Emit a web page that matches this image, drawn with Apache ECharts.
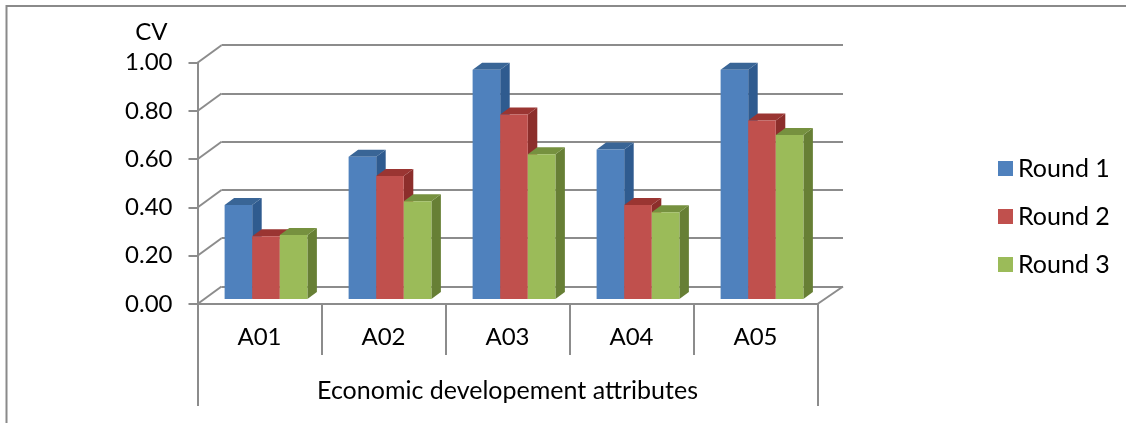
<!DOCTYPE html>
<html>
<head>
<meta charset="utf-8">
<style>html,body{margin:0;padding:0;background:#fff}#chart{width:1126px;height:423px}</style>
<script src="https://cdn.jsdelivr.net/npm/echarts@6/dist/echarts.min.js"></script>
</head>
<body>
<div id="chart"></div>
<script>
// Coefficient of variation per attribute across three survey rounds
const categories = ['A01', 'A02', 'A03', 'A04', 'A05'];
const round1 = [0.39, 0.59, 0.95, 0.62, 0.95];
const round2 = [0.26, 0.51, 0.765, 0.39, 0.74];
const round3 = [0.265, 0.405, 0.60, 0.36, 0.68];
const wallTicks = [0, 0.2, 0.4, 0.6, 0.8, 1];
const groupTitle = 'Economic developement attributes';

const FONT = 'Lato';
const LINE = '#8c8c8c';
const FRONT = { left: 197.5, top: 62.7, width: 620, height: 241.3 };
const DEPTH = { x: 24, y: 17.5 };
const BAR_DEPTH = { x: 9.5, y: 7 };
const BAR_SHIFT = { x: 6.5, y: 5 };

// One extruded column: front face, top face and right side face
function columnRenderer(slot, shades) {
  return function (params, api) {
    const cat = api.value(0);
    const base = api.coord([cat, 0]);
    const top = api.coord([cat, api.value(1)]);
    const band = api.size([1, 0])[0];
    const w = band * 0.2225;
    const x0 = base[0] + BAR_SHIFT.x + (slot - 1) * w - w / 2;
    const x1 = x0 + w;
    const y0 = base[1] - BAR_SHIFT.y;
    const y1 = top[1] - BAR_SHIFT.y;
    const dx = BAR_DEPTH.x, dy = BAR_DEPTH.y;
    return {
      type: 'group',
      children: [
        { type: 'polygon', shape: { points: [[x1, y0], [x1 + dx, y0 - dy], [x1 + dx, y1 - dy], [x1, y1]] }, style: { fill: shades.side } },
        { type: 'polygon', shape: { points: [[x0, y1], [x0 + dx, y1 - dy], [x1 + dx, y1 - dy], [x1, y1]] }, style: { fill: shades.top } },
        { type: 'rect', shape: { x: x0, y: y1, width: w, height: y0 - y1 }, style: { fill: shades.front } }
      ]
    };
  };
}

function columnSeries(name, slot, values, shades) {
  return {
    name: name,
    type: 'custom',
    xAxisIndex: 0,
    yAxisIndex: 0,
    z: 5,
    clip: false,
    itemStyle: { color: shades.front },
    encode: { x: 0, y: 1 },
    data: values.map((v, i) => [i, v]),
    renderItem: columnRenderer(slot, shades)
  };
}

// Slanted wall edges joining the front ticks to the back gridlines,
// plus the floor's right edge
function wallEdge(params, api) {
  const value = api.value(0);
  const rect = params.coordSys;
  const y = api.coord([0, value])[1];
  const stroke = { stroke: LINE, lineWidth: 2 };
  const children = [{
    type: 'line',
    shape: { x1: rect.x, y1: y, x2: rect.x + DEPTH.x, y2: y - DEPTH.y },
    style: stroke
  }];
  if (value === 0) {
    const right = rect.x + rect.width;
    children.push({ type: 'line', shape: { x1: right, y1: y, x2: right + DEPTH.x + 1.5, y2: y - DEPTH.y }, style: stroke });
  }
  return { type: 'group', children: children };
}

const chart = echarts.init(document.getElementById('chart'), null, { renderer: 'canvas' });
chart.setOption({
  backgroundColor: '#ffffff',
  animation: false,
  textStyle: { fontFamily: FONT },
  graphic: [{
    type: 'rect',
    z: 0,
    shape: { x: 6.5, y: 6, width: 1140, height: 440 },
    style: { fill: 'none', stroke: '#8a8a8a', lineWidth: 2 }
  }],
  legend: {
    orient: 'vertical',
    left: 998,
    top: 156,
    padding: 0,
    icon: 'rect',
    itemWidth: 15,
    itemHeight: 15,
    itemGap: 23,
    textStyle: { fontFamily: FONT, fontSize: 25, color: '#000' },
    data: ['Round 1', 'Round 2', 'Round 3']
  },
  grid: [
    FRONT,
    { left: FRONT.left + DEPTH.x, top: FRONT.top - DEPTH.y, width: FRONT.width + 1.5, height: FRONT.height }
  ],
  xAxis: [
    {
      type: 'category',
      gridIndex: 0,
      data: categories,
      axisLine: { lineStyle: { color: LINE, width: 2 } },
      axisTick: { show: true, length: 51, lineStyle: { color: LINE, width: 2 } },
      axisLabel: { fontFamily: FONT, fontSize: 24, color: '#000', margin: 21 }
    },
    {
      // second tier of the category axis: one band spanning every attribute
      type: 'category',
      gridIndex: 0,
      position: 'bottom',
      data: [groupTitle],
      axisLine: { show: false },
      axisTick: { show: true, length: 102, lineStyle: { color: LINE, width: 2 } },
      axisLabel: { fontFamily: FONT, fontSize: 25, color: '#000', margin: 74 }
    },
    {
      type: 'category',
      gridIndex: 1,
      data: categories,
      axisLine: { show: false },
      axisTick: { show: false },
      axisLabel: { show: false }
    }
  ],
  yAxis: [
    {
      type: 'value',
      gridIndex: 0,
      min: 0,
      max: 1,
      interval: 0.2,
      name: 'CV',
      nameLocation: 'end',
      nameGap: 18,
      nameTextStyle: { fontFamily: FONT, fontSize: 24, color: '#000', align: 'right', padding: [0, 30, 0, 0] },
      axisLine: { show: true, lineStyle: { color: LINE, width: 2 } },
      axisTick: { show: true, length: 9, lineStyle: { color: LINE, width: 2 } },
      splitLine: { show: false },
      axisLabel: { fontFamily: FONT, fontSize: 24, color: '#000', margin: 25, formatter: v => v.toFixed(2) }
    },
    {
      type: 'value',
      gridIndex: 1,
      min: 0,
      max: 1,
      interval: 0.2,
      axisLine: { show: false },
      axisTick: { show: false },
      axisLabel: { show: false },
      splitLine: { show: true, lineStyle: { color: LINE, width: 2 } }
    }
  ],
  series: [
    {
      type: 'custom',
      xAxisIndex: 0,
      yAxisIndex: 0,
      z: 1,
      clip: false,
      silent: true,
      encode: { y: 0 },
      data: wallTicks.map(v => [v]),
      renderItem: wallEdge
    },
    columnSeries('Round 1', 0, round1, { front: '#4f81bd', side: '#2f5b8f', top: '#396596' }),
    columnSeries('Round 2', 1, round2, { front: '#c0504d', side: '#8c2e2b', top: '#9a3532' }),
    columnSeries('Round 3', 2, round3, { front: '#9bbb59', side: '#677f35', top: '#76913f' })
  ]
});
</script>
</body>
</html>
